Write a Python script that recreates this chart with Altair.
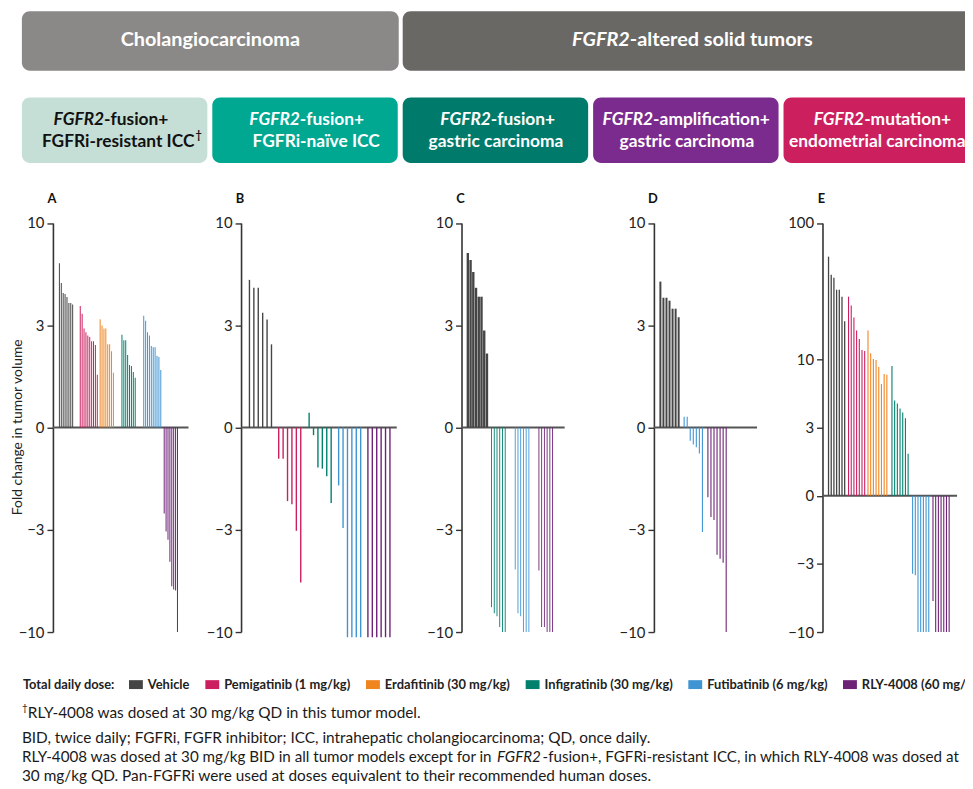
import altair as alt
import numpy as np
import pandas as pd

# ---------------- data (fold change in tumor volume) ----------------
GROUPS = ["Vehicle", "Pemigatinib (1 mg/kg)", "Erdafitinib (30 mg/kg)",
          "Infigratinib (30 mg/kg)", "Futibatinib (6 mg/kg)", "RLY-4008 (60 mg/kg)"]
COLORS = ["#454545", "#CC1F5F", "#F0841F", "#00806D", "#3F95D4", "#6E2277"]

A_VEH = [6.35, 5.09, 4.54, 4.49, 4.34, 4.06, 4.06, 3.99]
A_PEM = [3.93, 3.6, 3.05, 2.92, 2.82, 2.77, 2.64, 2.64, 2.53, 1.81]
A_ERD = [3.38, 3.15, 3.05, 3.05, 2.55, 2.55, 2.36, 1.85]
A_INF = [2.84, 2.67, 2.67, 2.26, 2.02, 2.0, 1.87, 1.75]
A_FUT = [3.52, 3.33, 2.92, 2.82, 2.5, 2.47, 2.47, 2.24, 2.21, 1.91]
A_RLY = [-2.63, -3.22, -3.54, -4.53, -5.98, -6.19, -6.26, -10.0]

B_VEH = [5.27, 4.82, 4.82, 3.64, 3.37, 2.55]
B_PEM = [-1.42, -1.42, -2.29, -2.37, -3.2, -5.72]
B_INF = [1.18, -1.09, -1.57, -1.59, -1.73, -2.34]
B_FUT = [-1.92, -3.1, -10.6, -10.6, -10.6, -10.6]
B_RLY = [-10.6, -10.6, -10.6, -10.6, -10.6, -10.6]

C_VEH = [7.13, 6.59, 5.76, 4.82, 4.36, 4.36, 2.98, 2.3]
C_INF = [-7.57, -8.09, -8.37, -9.46, -10.0, -10.0]
C_FUT = [-4.95, -8.09, -8.37, -10.0, -10.0, -10.0]
C_RLY = [-5.0, -9.46, -9.46, -10.0, -10.0, -10.0]

D_VEH = [5.17, 4.31, 4.31, 4.17, 3.81, 3.81, 3.46]
D_FUT = [1.13, 1.13, -1.16, -1.21, -1.25, -1.34, -3.24]
D_RLY = [-2.19, -2.74, -2.83, -4.19, -4.38, -4.58, -10.0]

E_VEH = [56.6, 41.7, 39.6, 32.4, 32.4, 28.8, 19.0]
E_PEM = [28.8, 24.8, 20.3, 16.3, 14.1, 11.7, 11.5]
E_ERD = [16.3, 11.1, 10.05, 9.9, 8.8, 6.6, 7.8, 7.7]
E_INF = [8.95, 4.98, 4.74, 4.36, 4.08, 3.69, 2.03]
E_FUT = [-3.74, -3.84, -10.0, -10.0, -10.0, -10.0, -10.0]
E_RLY = [-5.93, -10.0, -10.0, -10.0, -10.0, -10.0, -10.0]

PANEL_DATA = {
    "A": [(GROUPS[0], A_VEH), (GROUPS[1], A_PEM), (GROUPS[2], A_ERD),
          (GROUPS[3], A_INF), (GROUPS[4], A_FUT), (GROUPS[5], A_RLY)],
    "B": [(GROUPS[0], B_VEH), (GROUPS[1], B_PEM), (GROUPS[3], B_INF),
          (GROUPS[4], B_FUT), (GROUPS[5], B_RLY)],
    "C": [(GROUPS[0], C_VEH), (GROUPS[3], C_INF), (GROUPS[4], C_FUT), (GROUPS[5], C_RLY)],
    "D": [(GROUPS[0], D_VEH), (GROUPS[4], D_FUT), (GROUPS[5], D_RLY)],
    "E": [(GROUPS[0], E_VEH), (GROUPS[1], E_PEM), (GROUPS[2], E_ERD),
          (GROUPS[3], E_INF), (GROUPS[4], E_FUT), (GROUPS[5], E_RLY)],
}

# ---------------- layout ----------------
W, H = 965, 781
FONT = "Lato"
Y_TOP, Y_BOT = 213.5, 626.0
LAYOUT = {
    "A": dict(axis_x=45.3, end_x=182, lead=0.8, tail=3.2, gaps=[4, 1.5, 4.5, 4.5, 1.8], bw=1.0, vw=1.0, ymax=1),
    "B": dict(axis_x=235, end_x=392, lead=0.78, tail=0.42, gaps=[1.64, 1.9, 1.7, 1.64], bw=1.4, vw=1.4, ymax=1),
    "C": dict(axis_x=457.3, end_x=561.3, lead=0.5, tail=2.6, gaps=[1.67, 3.67, 3.67], bw=0.9, vw=2.4, ymax=1),
    "D": dict(axis_x=651.3, end_x=755.3, lead=0.5, tail=8.5, gaps=[1.8, 1.8], bw=1.1, vw=2.0, ymax=1),
    "E": dict(axis_x=821.3, end_x=957, lead=0.4, tail=1.1, gaps=[1.43, 1.23, 1.9, 1.67, 1.57], bw=1.1, vw=1.3, ymax=2),
}

LABEL_EXPR = ("datum.value == 0 ? '0' : (datum.value < 0 ? '\u2212' : '') + "
              "format(pow(10, abs(datum.value)), '.0f')")

LEGEND = alt.Legend(
    title="Total daily dose:", orient="none", legendX=15, legendY=672,
    direction="horizontal", titleOrient="left", titleFont=FONT, titleFontSize=13,
    titleFontWeight="bold", titleColor="#222", titlePadding=14,
    labelFont=FONT, labelFontSize=13, labelFontWeight="bold", labelColor="#222",
    labelOffset=5, columnPadding=15, symbolType="M-1,-0.64H1V0.64H-1Z",
    symbolSize=196, symbolStrokeWidth=0, labelLimit=400, symbolOpacity=1,
)
COLOR_SCALE = alt.Scale(domain=GROUPS, range=COLORS)


def txt(s, x, y, size=13, weight="normal", style="normal", color="#1a1a1a", align="left", font=FONT):
    return alt.Chart(pd.DataFrame({"t": [s]})).mark_text(
        font=font, fontSize=size, fontWeight=weight, fontStyle=style, color=color,
        align=align, baseline="middle"
    ).encode(x=alt.value(x), y=alt.value(y), text="t:N")


def box(x0, x1, y0, y1, fill):
    return alt.Chart(pd.DataFrame({"a": [0]})).mark_rect(
        cornerRadius=8, color=fill
    ).encode(x=alt.value(x0), x2=alt.value(x1), y=alt.value(y0), y2=alt.value(y1))


def panel_layers(letter):
    lay = LAYOUT[letter]
    rows = []
    pos = 0.0
    for gi, (g, vals) in enumerate(PANEL_DATA[letter]):
        if gi > 0:
            pos += lay["gaps"][gi - 1]
        for k, fc in enumerate(vals):
            if k > 0:
                pos += 1
            v = float(np.sign(fc) * np.log10(abs(fc)))
            rows.append(dict(slot=pos, fc=fc, v=v, group=g))
    df = pd.DataFrame(rows)
    lo, hi = -lay["lead"], pos + lay["tail"]
    ticks = [-1, -0.5, 0, 0.5, 1] + ([2] if lay["ymax"] == 2 else [])

    def xs():
        return alt.Scale(domain=[lo, hi], range=[lay["axis_x"], lay["end_x"]], nice=False, zero=False)

    def ys():
        return alt.Scale(domain=[-1, lay["ymax"]], range=[Y_BOT, Y_TOP], nice=False, zero=False)

    axis = alt.Axis(
        values=ticks, labelExpr=LABEL_EXPR, orient="left", offset=-lay["axis_x"],
        grid=False, domainColor="#333", domainWidth=1.6, tickColor="#333", tickWidth=1.4,
        tickSize=6, labelFont=FONT, labelFontSize=15, labelColor="#222", labelPadding=3,
        title="Fold change in tumor volume" if letter == "A" else None,
        titleFont=FONT, titleFontSize=14, titleFontWeight="normal", titleColor="#222",
        titleX=-36, titleY=419, titleBaseline="middle", titleAlign="center",
    )
    base = alt.Chart(pd.DataFrame({"x0": [lo], "x1": [hi], "y0": [0.0]})).mark_rule(
        color="#555", strokeWidth=2
    ).encode(
        x=alt.X("x0:Q", scale=xs(), axis=None),
        x2="x1:Q",
        y=alt.Y("y0:Q", scale=ys(), axis=axis),
    )
    other = df[df["group"] != "Vehicle"]
    veh = df[df["group"] == "Vehicle"]
    out = [base]
    for sub, w in [(other, lay["bw"]), (veh, lay["vw"])]:
        out.append(alt.Chart(sub).mark_bar(size=w).encode(
            x=alt.X("slot:Q", scale=xs(), axis=None),
            y=alt.Y("v:Q", scale=ys(), axis=None, stack=None),
            color=alt.Color("group:N", scale=COLOR_SCALE, legend=LEGEND),
        ))
    out.append(txt(letter, lay["axis_x"] - 1, 189, 13, "bold", color="#111", align="center"))
    return out


# header boxes
ROW1 = [(14, 394, "#8B8987"), (398, 990, "#6A6865")]
ROW2 = [(14, 201, "#C5DFD7"), (206, 393, "#00A891"), (398, 585, "#007B6B"),
        (590, 777, "#7B2B8D"), (782, 990, "#CB1F5E")]
layers = []
for p in ["A", "B", "C", "D", "E"]:
    layers += panel_layers(p)

for x0, x1, c in ROW1:
    layers.append(box(x0, x1, 0, 60, c))
for x0, x1, c in ROW2:
    layers.append(box(x0, x1, 87, 153, c))

WHITE = "#ffffff"
HS, HS2 = 20, 17.5
L1, L2 = 110, 132
layers += [
    txt("Cholangiocarcinoma", 204, 29.5, HS, "bold", color=WHITE, align="center"),
    txt("FGFR2", 627, 29.5, HS, "bold", "italic", WHITE, "right"),
    txt("-altered solid tumors", 627, 29.5, HS, "bold", color=WHITE),
    txt("FGFR2", 96.9, L1, HS2, "bold", "italic", "#111", "right"),
    txt("-fusion+", 96.9, L1, HS2, "bold", color="#111"),
    txt("FGFRi-resistant ICC", 188, L2, HS2, "bold", color="#111", align="right"),
    txt("\u2020", 189, L2 - 6, 11, "bold", color="#111"),
    txt("FGFR2", 294.3, L1, HS2, "bold", "italic", WHITE, "right"),
    txt("-fusion+", 294.3, L1, HS2, "bold", color=WHITE),
    txt("FGFRi-na\u00efve ICC", 310.7, L2, HS2, "bold", color=WHITE, align="center"),
    txt("FGFR2", 486.9, L1, HS2, "bold", "italic", WHITE, "right"),
    txt("-fusion+", 486.9, L1, HS2, "bold", color=WHITE),
    txt("gastric carcinoma", 492, L2, HS2, "bold", color=WHITE, align="center"),
    txt("FGFR2", 650.5, L1, HS2, "bold", "italic", WHITE, "right"),
    txt("-amplification+", 650.5, L1, HS2, "bold", color=WHITE),
    txt("gastric carcinoma", 684.5, L2, HS2, "bold", color=WHITE, align="center"),
    txt("FGFR2", 863.3, L1, HS2, "bold", "italic", WHITE, "right"),
    txt("-mutation+", 863.3, L1, HS2, "bold", color=WHITE),
    txt("endometrial carcinoma", 876.5, L2, HS2, "bold", color=WHITE, align="center"),
]

FS = 15.5
FS3 = 15.3
layers += [
    txt("\u2020", 14, 703, 10),
    txt("RLY-4008 was dosed at 30 mg/kg QD in this tumor model.", 20, 708, FS),
    txt("BID, twice daily; FGFRi, FGFR inhibitor; ICC, intrahepatic cholangiocarcinoma; QD, once daily.", 14, 733, FS),
    txt("RLY-4008 was dosed at 30 mg/kg BID in all tumor models except for in", 14, 752, FS3),
    txt("FGFR2", 493, 752, FS3, style="italic"),
    txt("-fusion+, FGFRi-resistant ICC, in which RLY-4008 was dosed at", 539, 752, FS3),
    txt("30 mg/kg QD. Pan-FGFRi were used at doses equivalent to their recommended human doses.", 14, 771, FS),
]

chart = alt.layer(*layers).resolve_scale(
    x="independent", y="independent"
).properties(
    width=W, height=H, autosize=alt.AutoSizeParams(type="none"), padding=0,
    background="white",
).configure_view(stroke=None)

chart.save("out.html", embed_options={"renderer": "svg", "actions": False})
